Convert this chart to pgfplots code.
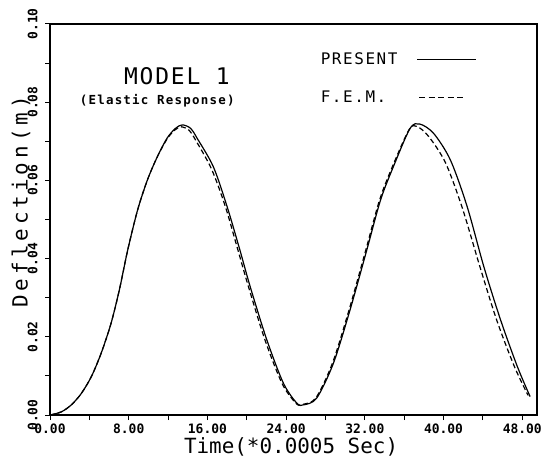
\documentclass[border=0pt]{standalone}
\usepackage{fontspec}
\usepackage{pgfplots}
\pgfplotsset{compat=1.18}
\setmainfont{DejaVu Sans Mono}
\newfontfamily\tickfont{DejaVu Sans Mono}
\newfontfamily\titlefont[LetterSpace=8]{DejaVu Sans Mono}
\newfontfamily\subfont[LetterSpace=10]{DejaVu Sans Mono}
\newfontfamily\legfont[LetterSpace=10]{DejaVu Sans Mono}
\newfontfamily\ylabfont[LetterSpace=19]{DejaVu Sans Mono}

\begin{document}
\begin{tikzpicture}
\begin{axis}[
  scale only axis, width=487bp, height=391bp,
  xmin=0, xmax=49.5, ymin=0, ymax=0.1,
  xtick={0,8,...,48}, minor xtick={4,12,...,44},
  ytick={0,0.02,0.04,0.06,0.08,0.1}, minor ytick={0.01,0.03,0.05,0.07,0.09},
  xtick pos=bottom, ytick pos=left, tick align=outside,
  major tick length=5bp, minor tick length=5bp,
  every tick/.style={black, line width=1bp},
  axis line style={line width=1.1bp},
  scaled y ticks=false,
  /pgf/number format/fixed, /pgf/number format/fixed zerofill,
  /pgf/number format/precision=2, /pgf/number format/assume math mode=true,
  tick label style={font=\tickfont\bfseries\fontsize{13}{14}\selectfont},
  yticklabel style={xshift=-4bp, rotate=90, anchor=south},
  xlabel={Time(*0.0005 Sec)},
  ylabel={Deflection(m)},
  every axis x label/.style={at={(rel axis cs:0.495,0)}, yshift=-32bp, anchor=center,
    font=\fontsize{21}{22}\selectfont},
  every axis y label/.style={at={(rel axis cs:0,0.545)}, xshift=-29bp, rotate=90, anchor=center,
    font=\ylabfont\fontsize{21}{22}\selectfont},
  legend style={at={(axis cs:27.3,0.0932)}, anchor=north west, draw=none, fill=none,
    font=\legfont\fontsize{16}{17}\selectfont, row sep=21bp, inner sep=0pt,
    /tikz/every odd column/.append style={column sep=17bp}},
  legend plot pos=right,
  legend cell align=left,
  clip=false,
]
\addplot[black, line width=1.2bp, smooth, tension=0.5,
  legend image code/.code={\draw[black, line width=1bp] (0bp,0bp) -- (59bp,0bp);}]
  coordinates {
  (0,0) (1.15,0.0008) (2.17,0.0026) (3.18,0.0055) (4.2,0.0098) (5.2,0.0158)
  (6.2,0.0234) (7.05,0.0320) (7.9,0.0422) (8.9,0.0524) (9.9,0.0601)
  (10.9,0.0660) (11.9,0.0708) (12.75,0.0733) (13.45,0.0742) (14.3,0.0733)
  (14.95,0.0708) (16.6,0.0635) (18.0,0.0533) (19.3,0.0422)
  (20.35,0.0328) (22.04,0.0192) (23.73,0.0081) (25.1,0.0030) (25.77,0.0026)
  (27.1,0.0043) (28.8,0.0132) (30.5,0.0269) (32.2,0.0422) (33.6,0.0550)
  (34.9,0.0635) (36.6,0.0733) (37.6,0.0744) (39.0,0.0720) (40.7,0.0652)
  (42.4,0.0533) (44.1,0.0379) (45.8,0.0243) (47.5,0.0124) (48.8,0.0047)
  };
\addlegendentry{PRESENT}
\addplot[black, line width=1.2bp, smooth, tension=0.5, dash pattern=on 5bp off 3bp,
  legend image code/.code={\draw[black, line width=1bp, dash pattern=on 6bp off 3.5bp] (2bp,0bp) -- (47bp,0bp);}]
  coordinates {
  (0,0) (1.15,0.0008) (2.17,0.0026) (3.18,0.0055) (4.2,0.0098) (5.2,0.0158)
  (6.2,0.0234) (7.05,0.0320) (7.9,0.0422) (8.9,0.0524) (9.9,0.0601)
  (10.9,0.0660) (11.9,0.0706) (12.7,0.0729) (13.35,0.0737) (14.15,0.0728)
  (14.8,0.0703) (16.4,0.0630) (17.8,0.0535) (19.1,0.0422)
  (20.15,0.0330) (21.85,0.0192) (23.6,0.0080) (25.0,0.0030) (25.6,0.0027)
  (27.0,0.0043) (28.7,0.0132) (30.4,0.0269) (32.1,0.0422) (33.5,0.0550)
  (34.8,0.0635) (36.5,0.0730) (37.3,0.0738) (38.5,0.0712) (40.2,0.0645)
  (41.9,0.0530) (43.7,0.0379) (45.4,0.0243) (47.2,0.0124) (48.6,0.0050)
  };
\addlegendentry{F.E.M.}
\node[font=\titlefont\fontsize{23}{24}\selectfont] at (axis cs:12.9,0.0867) {MODEL 1};
\node[font=\subfont\bfseries\fontsize{12.5}{13}\selectfont] at (axis cs:10.9,0.0803) {(Elastic Response)};
\coordinate (ll) at (rel axis cs:0,0);
\coordinate (ur) at (rel axis cs:1,1);
\end{axis}
\pgfresetboundingbox
\path ([shift={(-50bp,-43bp)}]ll) rectangle ([shift={(9bp,24bp)}]ur);
\end{tikzpicture}
\end{document}
